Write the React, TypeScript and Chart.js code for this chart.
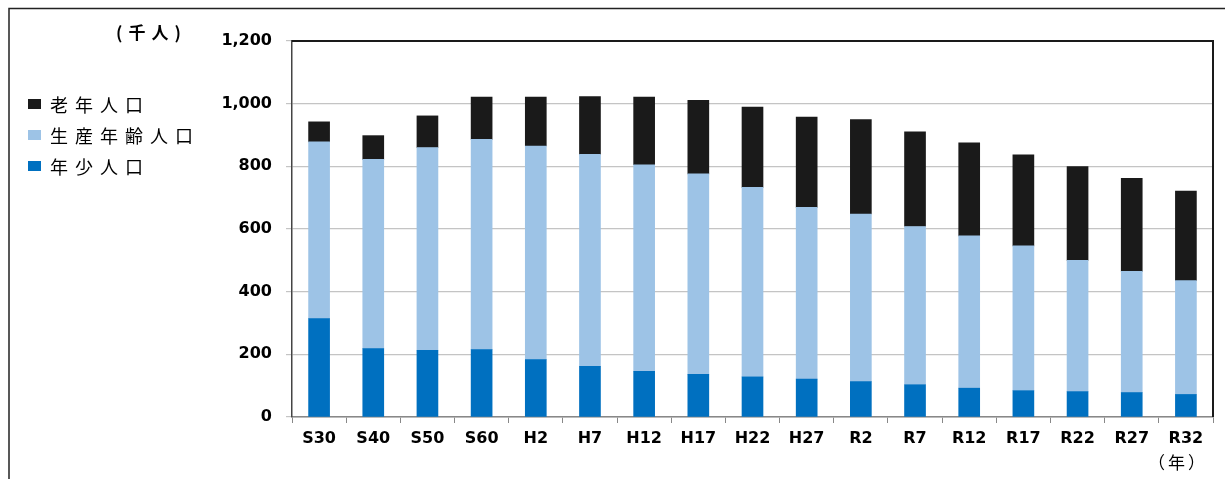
import React, { useEffect, useRef } from "react";
import { Chart, registerables } from "chart.js";

Chart.register(...registerables);

const categories = ["S30", "S40", "S50", "S60", "H2", "H7", "H12", "H17", "H22", "H27", "R2", "R7", "R12", "R17", "R22", "R27", "R32"];
const youngPop = [314, 218, 213, 215, 183, 162, 146, 136, 128, 121, 113, 103, 92, 84, 81, 78, 72];
const workingPop = [564, 604, 647, 671, 682, 676, 659, 640, 605, 548, 535, 505, 486, 462, 419, 387, 363];
const elderlyPop = [64, 76, 101, 135, 156, 185, 216, 235, 256, 288, 301, 302, 297, 291, 299, 297, 286];

const seriesNames = ["年少人口", "生産年齢人口", "老年人口"];
const seriesColors = ["#0070C0", "#9DC3E6", "#1A1A1A"];
const unitLabel = "(千人)";
const xUnitLabel = "（年）";

const W = 1225;
const H = 479;

export default function App() {
  const ref = useRef<HTMLCanvasElement | null>(null);

  useEffect(() => {
    const canvas = ref.current;
    if (!canvas) return;

    const decor = {
      id: "decor",
      afterDraw(chart: any) {
        const ctx = chart.ctx as CanvasRenderingContext2D;
        const a = chart.chartArea;
        ctx.save();
        // outer frame (top and left)
        ctx.strokeStyle = "#222";
        ctx.lineWidth = 1.5;
        ctx.beginPath();
        ctx.moveTo(9, H);
        ctx.lineTo(9, 8.5);
        ctx.lineTo(W, 8.5);
        ctx.stroke();
        // plot frame top and right
        ctx.strokeStyle = "#1a1a1a";
        ctx.lineWidth = 2;
        ctx.beginPath();
        ctx.moveTo(a.left, a.top);
        ctx.lineTo(a.right, a.top);
        ctx.lineTo(a.right, a.bottom);
        ctx.stroke();

        // unit label
        ctx.fillStyle = "#000";
        ctx.textBaseline = "middle";
        ctx.textAlign = "left";
        (ctx as any).letterSpacing = "6px";
        ctx.font = "bold 17px 'Noto Sans CJK JP'";
        ctx.fillText(unitLabel, 116, 33);

        // legend (top to bottom: elderly, working, young)
        const legendYs = [104, 135, 166];
        const order = [2, 1, 0];
        ctx.font = "18px 'Noto Sans CJK JP'";
        (ctx as any).letterSpacing = "7px";
        order.forEach((si, i) => {
          const y = legendYs[i];
          ctx.fillStyle = seriesColors[si];
          ctx.fillRect(28, y - 5, 13, 10);
          ctx.fillStyle = "#000";
          ctx.fillText(seriesNames[si], 50, y + 1);
        });

        // x unit
        (ctx as any).letterSpacing = "3px";
        ctx.font = "17px 'Noto Sans CJK JP'";
        ctx.textAlign = "left";
        ctx.fillText(xUnitLabel, 1148, 463);
        ctx.restore();
      },
    };

    const chart = new Chart(canvas, {
      type: "bar",
      data: {
        labels: categories,
        datasets: [
          { label: seriesNames[0], data: youngPop, backgroundColor: seriesColors[0], barThickness: 21 },
          { label: seriesNames[1], data: workingPop, backgroundColor: seriesColors[1], barThickness: 21 },
          { label: seriesNames[2], data: elderlyPop, backgroundColor: seriesColors[2], barThickness: 21 },
        ],
      },
      options: {
        animation: false,
        responsive: false,
        maintainAspectRatio: false,
        layout: { padding: { top: 41, right: 12, left: 0, bottom: 0 } },
        plugins: { legend: { display: false }, tooltip: { enabled: false } },
        scales: {
          x: {
            stacked: true,
            grid: { display: true, drawOnChartArea: false, drawTicks: true, tickLength: 6, color: "#888", offset: true },
            border: { display: true, color: "#888", width: 1.5 },
            ticks: {
              color: "#000",
              font: { family: "DejaVu Sans", weight: "bold", size: 16 },
              padding: 6,
              maxRotation: 0,
              autoSkip: false,
            },
            afterFit: (s: any) => {
              s.height = 62;
            },
          },
          y: {
            stacked: true,
            min: 0,
            max: 1200,
            ticks: {
              stepSize: 200,
              color: "#000",
              font: { family: "DejaVu Sans", weight: "bold", size: 16 },
              padding: 14,
              callback: (v: any) => Number(v).toLocaleString("en-US"),
            },
            grid: { color: "#c4c4c4", lineWidth: 1.2, tickLength: 6, drawTicks: true },
            border: { display: true, color: "#444", width: 1.5 },
            afterFit: (s: any) => {
              s.width = 292;
            },
          },
        },
      },
      plugins: [decor],
    });

    return () => chart.destroy();
  }, []);

  return (
    <div style={{ position: "absolute", left: 0, top: 0, width: W, height: H, background: "#fff" }}>
      <canvas ref={ref} width={W} height={H} style={{ display: "block", width: W, height: H }} />
    </div>
  );
}
